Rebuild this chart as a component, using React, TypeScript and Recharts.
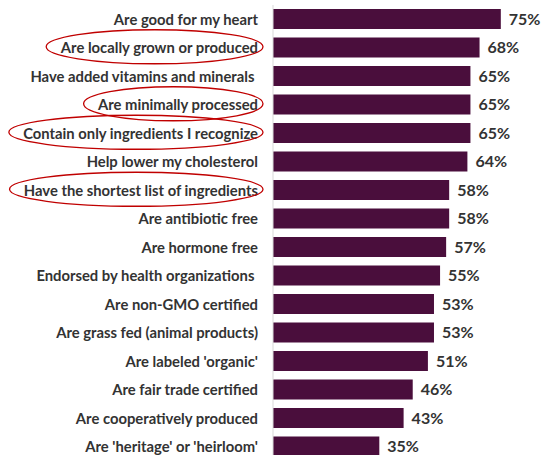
import React from 'react';
import { BarChart, Bar, XAxis, YAxis, LabelList } from 'recharts';

const categories = [
  'Are good for my heart',
  'Are locally grown or produced',
  'Have added vitamins and minerals ',
  'Are minimally processed',
  'Contain only ingredients I recognize',
  'Help lower my cholesterol',
  'Have the shortest list of ingredients',
  'Are antibiotic free',
  'Are hormone free',
  'Endorsed by health organizations ',
  'Are non-GMO certified',
  'Are grass fed (animal products)',
  "Are labeled 'organic'",
  'Are fair trade certified',
  'Are cooperatively produced',
  "Are 'heritage' or 'heirloom'",
];

const shares = [75, 68, 65, 65, 65, 64, 58, 58, 57, 55, 53, 53, 51, 46, 43, 35];

// the ones circled in red in the original slide
const circled = [
  'Are locally grown or produced',
  'Are minimally processed',
  'Contain only ingredients I recognize',
  'Have the shortest list of ingredients',
];

const data = categories.map((name, i) => ({ name, value: shares[i] }));

const LABEL_FONT = 'bold 14.8px Lato';
let ctx: CanvasRenderingContext2D | null = null;
const textWidth = (s: string) => {
  if (!ctx) ctx = document.createElement('canvas').getContext('2d');
  if (!ctx) return s.length * 7;
  ctx.font = LABEL_FONT;
  return ctx.measureText(s).width;
};

const CategoryTick = (props: any) => {
  const { x, y, payload } = props;
  const label: string = payload.value;
  const right = x - 7;
  let ring = null;
  if (circled.includes(label)) {
    const w = textWidth(label);
    const left = right - w - 14;
    const end = right + 5;
    ring = (
      <ellipse
        cx={(left + end) / 2}
        cy={y - 1}
        rx={(end - left) / 2}
        ry={17}
        fill="none"
        stroke="#c00000"
        strokeWidth={1.3}
      />
    );
  }
  return (
    <g>
      <text
        x={right}
        y={y}
        dy="0.36em"
        textAnchor="end"
        fill="#333333"
        style={{ font: LABEL_FONT, whiteSpace: 'pre' }}
      >
        {label}
      </text>
      {ring}
    </g>
  );
};

export default function App() {
  return (
    <div style={{ position: 'absolute', left: 0, top: 0, width: 544, height: 455, overflow: 'hidden', background: '#fff' }}>
      <BarChart
        width={544}
        height={466}
        data={data}
        layout="vertical"
        margin={{ top: 5, right: 28, bottom: 5, left: 0 }}
      >
        <XAxis type="number" domain={[0, 80]} hide />
        <YAxis
          type="category"
          dataKey="name"
          width={273}
          tickLine={false}
          axisLine={{ stroke: '#d9d9d9' }}
          tick={<CategoryTick />}
          interval={0}
        />
        <Bar dataKey="value" fill="#4a0e3c" barSize={20} isAnimationActive={false}>
          <LabelList
            dataKey="value"
            position="right"
            offset={8}
            formatter={(v: any) => `${v}%`}
            style={{ font: 'bold 16px Lato', fill: '#333333' }}
          />
        </Bar>
      </BarChart>
    </div>
  );
}
